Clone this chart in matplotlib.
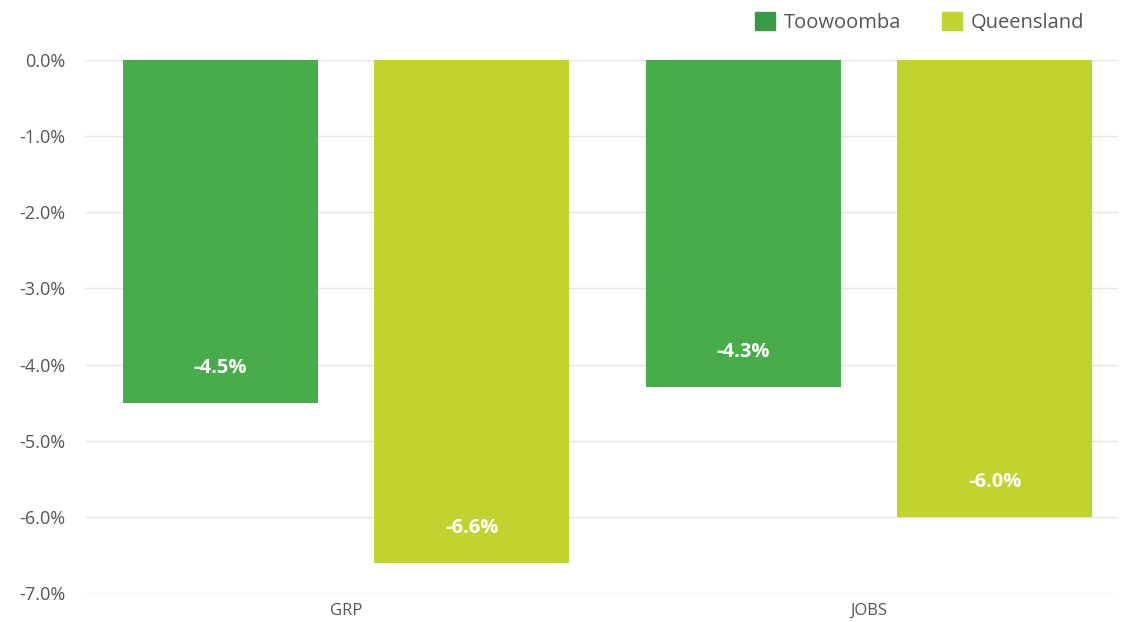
import matplotlib.pyplot as plt
import numpy as np

plt.rcParams['font.family'] = ['Open Sans', 'DejaVu Sans']

categories = ['GRP', 'JOBS']
series_names = ['Toowoomba', 'Queensland']
toowoomba = [-4.5, -4.3]
queensland = [-6.6, -6.0]
colors = ['#47ad4b', '#c1d32f']
legend_colors = ['#3a9a48', '#c1d32f']

fig = plt.figure(figsize=(11.26, 6.22), dpi=100)
ax = fig.add_axes([0.0755, 0.0466, 0.9175, 0.8569])

x = np.arange(len(categories))
width = 0.373
offset = 0.24

for vals, off, col in [(toowoomba, -offset, colors[0]), (queensland, offset, colors[1])]:
    bars = ax.bar(x + off, vals, width, color=col, zorder=2)
    for b, v in zip(bars, vals):
        ax.text(b.get_x() + b.get_width() / 2, v + 0.46, f'{v:.1f}%',
                ha='center', va='center', color='white', fontsize=14.5,
                fontweight='bold', zorder=3)

ax.set_xlim(-0.499, 1.476)
ax.set_ylim(-7, 0)
ax.set_yticks(np.arange(-7, 0.5, 1))
ax.set_yticklabels([f'{t:.1f}%' for t in np.arange(-7, 0.5, 1)])
ax.set_xticks(x)
ax.set_xticklabels(categories)
ax.grid(axis='y', color='#e4e4e4', linewidth=1, zorder=0)
ax.tick_params(axis='both', length=0, labelcolor='#555555', labelsize=12)
ax.tick_params(axis='y', labelsize=13, pad=14)
ax.tick_params(axis='x', pad=7)
for s in ax.spines.values():
    s.set_visible(False)

handles = [plt.Rectangle((0, 0), 1, 1, color=c) for c in legend_colors]
ax.legend(handles, series_names, loc='center right', bbox_to_anchor=(0.975, 1.07),
          ncol=2, frameon=False, fontsize=14.5, labelcolor='#555555',
          handlelength=1.0, handleheight=1.0, handletextpad=0.45,
          columnspacing=2.0, borderaxespad=0.0)

fig.savefig('out.png', dpi=100)
